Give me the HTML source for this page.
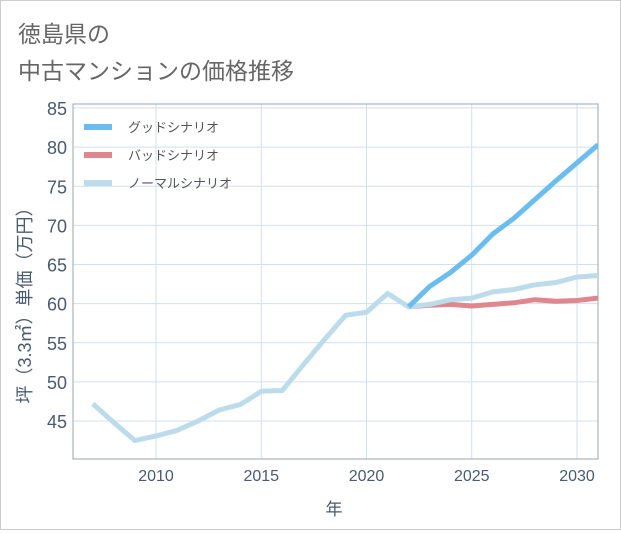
<!DOCTYPE html>
<html><head><meta charset="utf-8">
<style>
body{margin:0;background:#fff;}
#wrap{position:relative;width:619px;height:528px;border:1px solid #ccc;background:#fff;font-family:"Liberation Sans","Noto Sans CJK JP",sans-serif;}
</style></head>
<body>
<div id="wrap">
<svg id="c" width="619" height="528" xmlns="http://www.w3.org/2000/svg" font-family="Liberation Sans, Noto Sans CJK JP, sans-serif">
<text x="17" y="41" font-size="23" fill="#666">徳島県の</text>
<text x="17" y="78" font-size="23" fill="#666">中古マンションの価格推移</text>
<g id="grid"></g>
<g id="axes"></g>
<g id="series"></g>
<g id="legend"></g>
</svg>
</div>
<script>
const years=[2007,2008,2009,2010,2011,2012,2013,2014,2015,2016,2017,2018,2019,2020,2021,2022,2023,2024,2025,2026,2027,2028,2029,2030,2031];
const normalVals=[47.2,44.8,42.5,43.1,43.8,45.0,46.4,47.1,48.8,48.9,52.2,55.4,58.5,58.9,61.3,59.6,59.9,60.5,60.7,61.5,61.8,62.4,62.7,63.4,63.6];
const goodYears=[2022,2023,2024,2025,2026,2027,2028,2029,2030,2031];
const goodVals=[59.6,62.2,64.0,66.2,68.9,70.9,73.3,75.7,78.0,80.3];
const badVals=[59.6,59.8,59.9,59.7,59.9,60.1,60.5,60.3,60.4,60.7];
const xTicks=[2010,2015,2020,2025,2030];
const yTicks=[45,50,55,60,65,70,75,80,85];
const legendLabels=["グッドシナリオ","バッドシナリオ","ノーマルシナリオ"];
const legendColors=["#6bbdf0","#e0868e","#bcdcec"];

const L=72,R=597,T=103,B=458;
const X=y=>155+(y-2010)*21.05;
const Y=v=>420-(v-45)*7.825;
const NS="http://www.w3.org/2000/svg";
function mk(tag,attrs,parent,text){const e=document.createElementNS(NS,tag);for(const k in attrs)e.setAttribute(k,attrs[k]);if(text!==undefined)e.textContent=text;parent.appendChild(e);return e;}
const grid=document.getElementById('grid'),axes=document.getElementById('axes'),series=document.getElementById('series'),legend=document.getElementById('legend');
for(const t of yTicks){
 const g=mk('line',{x1:L,x2:R,y1:Y(t),y2:Y(t),stroke:'#cfe1ef','stroke-width':1},grid);
 
 
 const lb=mk('text',{x:66,y:Y(t)+7,'font-size':18,fill:'#4a5a70','text-anchor':'end'},axes,String(t));
 
 
}
for(const t of xTicks){
 const g=mk('line',{x1:X(t),x2:X(t),y1:T,y2:B,stroke:'#cfe1ef','stroke-width':1},grid);
 
 
 const lb=mk('text',{x:X(t),y:480,'font-size':16,fill:'#4a5a70','text-anchor':'middle'},axes,String(t));
 
 
}
const frame=mk('rect',{x:L,y:T,width:R-L,height:B-T,fill:'none',stroke:'#9aa4ae','stroke-width':1},axes);


const xt=mk('text',{x:333,y:514,'font-size':17,fill:'#4a5a70','text-anchor':'middle'},axes,'年');


const yt=mk('text',{x:0,y:0,'font-size':18,fill:'#4a5a70','text-anchor':'middle',transform:'translate(30,300) rotate(-90)'},axes,'坪（3.3㎡）単価（万円）');



function line(xs,vs,color,name){
 const p=xs.map((x,i)=>X(x).toFixed(1)+','+Y(vs[i]).toFixed(1)).join(' ');
 const e=mk('polyline',{points:p,fill:'none',stroke:color,'stroke-width':5,'stroke-linejoin':'round','clip-path':'url(#clip)'},series);
 
 
}
const defs=mk('defs',{},series);const cp=mk('clipPath',{id:'clip'},defs);mk('rect',{x:L,y:T,width:R-L,height:B-T},cp);
line(goodYears,badVals,legendColors[1],'bad-scenario-line');
line(years,normalVals,legendColors[2],'normal-scenario-line');
line(goodYears,goodVals,legendColors[0],'good-scenario-line');

legendLabels.forEach((lab,i)=>{
 const y=126+i*28;
 const s=mk('line',{x1:83,x2:111,y1:y,y2:y,stroke:legendColors[i],'stroke-width':6},legend);
 
 
 const t=mk('text',{x:127,y:y+5,'font-size':13,fill:'#555'},legend,lab);
 
 
});
</script>
</body></html>
